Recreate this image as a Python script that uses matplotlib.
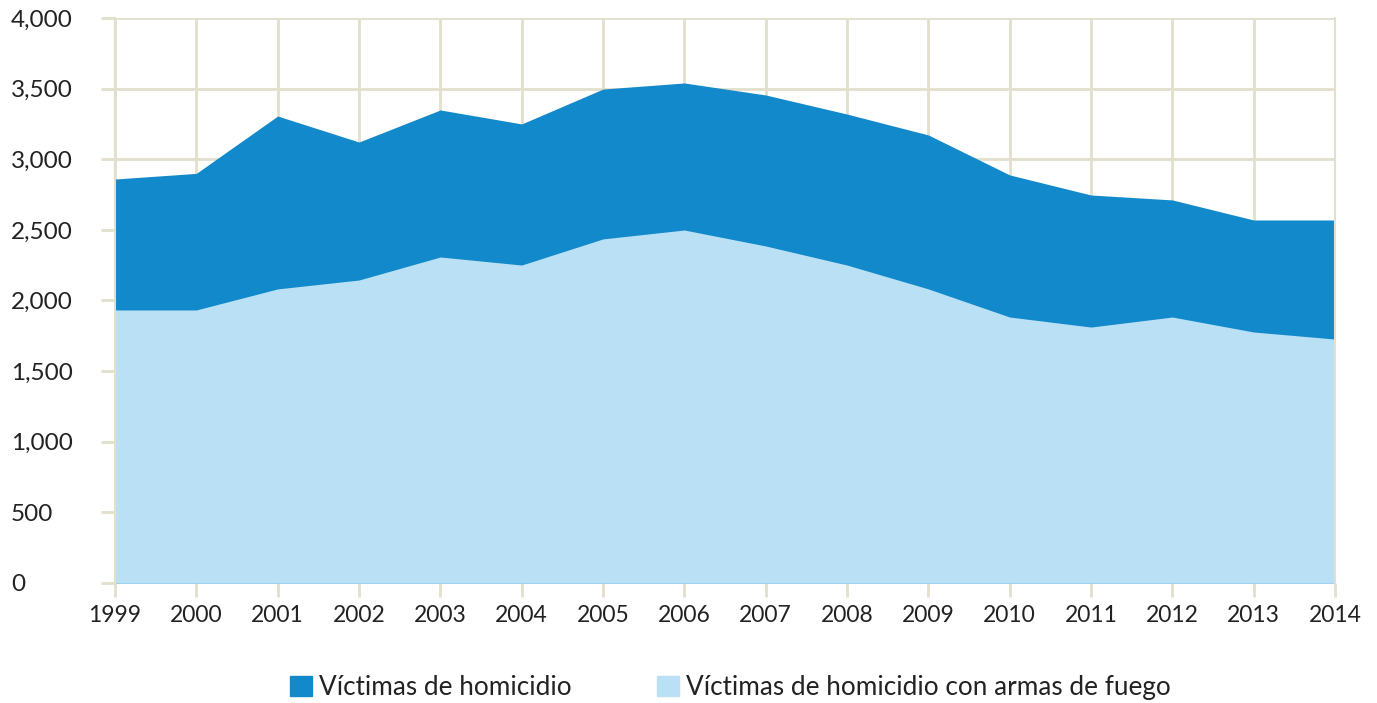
import matplotlib.pyplot as plt
from matplotlib.patches import Patch

years = list(range(1999, 2015))
homicidios = [2860, 2900, 3306, 3122, 3349, 3250, 3497, 3540, 3455, 3320, 3172, 2889, 2747, 2712, 2570, 2570]
con_armas = [1933, 1933, 2082, 2145, 2308, 2251, 2436, 2499, 2386, 2251, 2082, 1883, 1812, 1883, 1777, 1727]
yticks = [0, 500, 1000, 1500, 2000, 2500, 3000, 3500, 4000]

dark = '#1289ca'
light = '#bae0f5'
gridc = '#e2dfcc'
textc = '#222222'

plt.rcParams['font.family'] = ['Lato', 'DejaVu Sans']

fig = plt.figure(figsize=(13.77, 7.03), dpi=100)
ax = fig.add_axes([0.0835, 0.1707, 0.886, 0.8037])

ax.fill_between(years, 0, homicidios, color=dark, lw=0)
ax.fill_between(years, 0, con_armas, color=light, lw=0)

ax.set_xlim(1999, 2014)
ax.set_ylim(0, 4000)
ax.set_xticks(years)
ax.set_yticks(yticks)
ax.set_yticklabels(['{:,}'.format(v) for v in yticks], ha='left')
ax.set_axisbelow(True)
ax.grid(True, color=gridc, lw=2)

ax.tick_params(axis='both', color=gridc, width=2, length=10, labelsize=17.5, labelcolor=textc)
ax.tick_params(axis='y', pad=65)
ax.tick_params(axis='x', pad=6, labelsize=16.5)

for s in ['top', 'bottom']:
    ax.spines[s].set_visible(False)
for s in ['left', 'right']:
    ax.spines[s].set_color(gridc)
    ax.spines[s].set_linewidth(1.5)

handles = [Patch(color=dark, label='Víctimas de homicidio'),
           Patch(color=light, label='Víctimas de homicidio con armas de fuego')]
fig.legend(handles=handles, loc='center', bbox_to_anchor=(0.5305, 0.022), ncol=2,
           frameon=False, fontsize=18.8, handlelength=0.84, handleheight=0.84,
           handletextpad=0.27, columnspacing=3.25, labelcolor=textc)

fig.savefig('out.png', dpi=100)
